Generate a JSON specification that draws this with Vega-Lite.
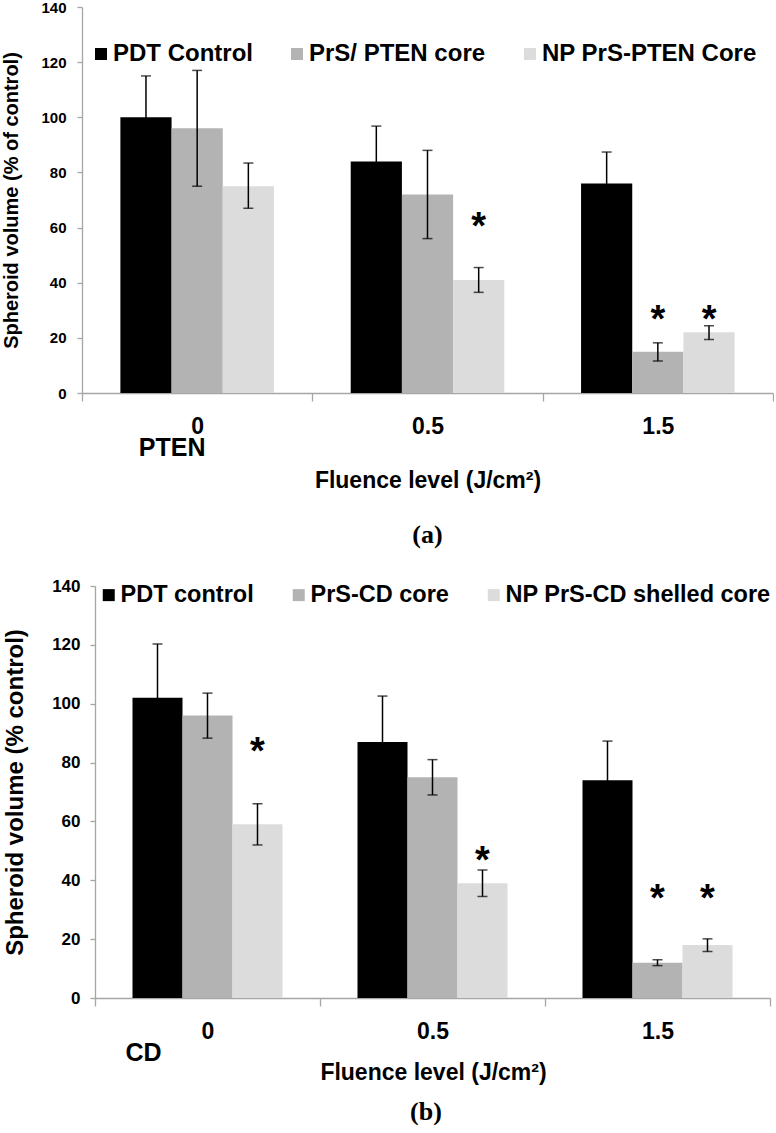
{
  "$schema": "https://vega.github.io/schema/vega-lite/v6.json",
  "padding": {"left": 1, "top": 0, "right": 0, "bottom": 0},
  "background": "white",
  "config": {
    "font": "Liberation Sans",
    "view": {"stroke": null},
    "axis": {"domainColor": "#a6a6a6", "tickColor": "#a6a6a6", "labelColor": "black", "titleColor": "black", "labelFontWeight": "bold", "titleFontWeight": "bold", "grid": false, "domainWidth": 1.3, "tickWidth": 1.3}
  },
  "datasets": {
    "a": [
      {"fluence": "0", "group": "PDT Control", "value": 100, "lo": 85, "hi": 115, "star": null},
      {"fluence": "0", "group": "PrS/ PTEN core", "value": 96, "lo": 75, "hi": 117, "star": null},
      {"fluence": "0", "group": "NP PrS-PTEN Core", "value": 75, "lo": 67, "hi": 83.4, "star": null},
      {"fluence": "0.5", "group": "PDT Control", "value": 84, "lo": 71.2, "hi": 96.8, "star": null},
      {"fluence": "0.5", "group": "PrS/ PTEN core", "value": 72, "lo": 56, "hi": 88, "star": null},
      {"fluence": "0.5", "group": "NP PrS-PTEN Core", "value": 41, "lo": 36.5, "hi": 45.5, "star": 64},
      {"fluence": "1.5", "group": "PDT Control", "value": 76, "lo": 64.6, "hi": 87.4, "star": null},
      {"fluence": "1.5", "group": "PrS/ PTEN core", "value": 15, "lo": 11.6, "hi": 18.2, "star": 30},
      {"fluence": "1.5", "group": "NP PrS-PTEN Core", "value": 22, "lo": 19.4, "hi": 24.4, "star": 30}
    ],
    "b": [
      {"fluence": "0", "group": "PDT control", "value": 102, "lo": 83.7, "hi": 120.3, "star": null},
      {"fluence": "0", "group": "PrS-CD core", "value": 96, "lo": 88.3, "hi": 103.6, "star": null},
      {"fluence": "0", "group": "NP PrS-CD shelled core", "value": 59, "lo": 52, "hi": 66, "star": 87},
      {"fluence": "0.5", "group": "PDT control", "value": 87, "lo": 71.4, "hi": 102.6, "star": null},
      {"fluence": "0.5", "group": "PrS-CD core", "value": 75, "lo": 69, "hi": 81, "star": null},
      {"fluence": "0.5", "group": "NP PrS-CD shelled core", "value": 39, "lo": 34.5, "hi": 43.5, "star": 50},
      {"fluence": "1.5", "group": "PDT control", "value": 74, "lo": 60.7, "hi": 87.3, "star": null},
      {"fluence": "1.5", "group": "PrS-CD core", "value": 12, "lo": 11, "hi": 13, "star": 37},
      {"fluence": "1.5", "group": "NP PrS-CD shelled core", "value": 18, "lo": 15.8, "hi": 20.1, "star": 37}
    ]
  },
  "resolve": {
    "scale": {"color": "independent", "xOffset": "independent", "x": "independent", "y": "independent"},
    "legend": {"color": "independent"},
    "axis": {"x": "independent", "y": "independent"}
  },
  "concat": [
    {
      "width": 691,
      "height": 386,
      "data": {"name": "a"},
      "title": {"text": "(a)", "orient": "bottom", "anchor": "middle", "frame": "group", "font": "Liberation Serif", "fontSize": 26, "fontWeight": "bold", "offset": 30, "color": "black"},
      "encoding": {
        "x": {"field": "fluence", "type": "nominal", "sort": ["0", "0.5", "1.5"], "scale": {"paddingInner": 0, "paddingOuter": 0},
          "axis": {"title": "Fluence level (J/cm²)", "labelAngle": 0, "labelFontSize": 23, "titleFontSize": 23, "tickSize": 8, "tickBand": "extent", "labelPadding": 14, "titlePadding": 31}}
      },
      "layer": [
        {
          "mark": {"type": "bar"},
          "encoding": {
            "xOffset": {"field": "group", "type": "nominal", "sort": ["PDT Control", "PrS/ PTEN core", "NP PrS-PTEN Core"], "scale": {"paddingInner": 0, "paddingOuter": 0.75}},
            "y": {"field": "value", "type": "quantitative", "title": "Spheroid volume (% of  control)", "scale": {"domain": [0, 140]},
              "axis": {"values": [0, 20, 40, 60, 80, 100, 120, 140], "labelFontSize": 15, "titleFontSize": 20, "tickSize": 5, "labelPadding": 11, "titlePadding": 19}},
            "color": {"field": "group", "type": "nominal", "sort": ["PDT Control", "PrS/ PTEN core", "NP PrS-PTEN Core"], "scale": {"range": ["#000000", "#b3b3b3", "#dcdcdc"]},
              "legend": {"title": null, "orient": "none", "legendX": 7, "legendY": 35, "direction": "horizontal", "symbolType": "square", "symbolSize": 144, "symbolStrokeWidth": 0, "symbolOpacity": 1, "labelFontSize": 24, "labelFontWeight": "bold", "labelColor": "black", "labelLimit": 400, "columnPadding": 32, "labelOffset": 0}}
          }
        },
        {
          "mark": {"type": "rule", "color": "black", "strokeWidth": 1.5},
          "encoding": {
            "xOffset": {"field": "group", "type": "nominal", "sort": ["PDT Control", "PrS/ PTEN core", "NP PrS-PTEN Core"]},
            "y": {"field": "lo", "type": "quantitative", "title": "Spheroid volume (% of  control)"},
            "y2": {"field": "hi"}
          }
        },
        {
          "mark": {"type": "tick", "color": "black", "thickness": 1.5, "size": 10},
          "encoding": {
            "xOffset": {"field": "group", "type": "nominal", "sort": ["PDT Control", "PrS/ PTEN core", "NP PrS-PTEN Core"]},
            "y": {"field": "lo", "type": "quantitative", "title": "Spheroid volume (% of  control)"}
          }
        },
        {
          "mark": {"type": "tick", "color": "black", "thickness": 1.5, "size": 10},
          "encoding": {
            "xOffset": {"field": "group", "type": "nominal", "sort": ["PDT Control", "PrS/ PTEN core", "NP PrS-PTEN Core"]},
            "y": {"field": "hi", "type": "quantitative", "title": "Spheroid volume (% of  control)"}
          }
        },
        {
          "transform": [{"filter": "datum.star != null"}],
          "mark": {"type": "text", "text": "*", "fontSize": 38, "fontWeight": "bold", "baseline": "alphabetic", "dy": 22, "color": "black"},
          "encoding": {
            "xOffset": {"field": "group", "type": "nominal", "sort": ["PDT Control", "PrS/ PTEN core", "NP PrS-PTEN Core"]},
            "y": {"field": "star", "type": "quantitative", "title": "Spheroid volume (% of  control)"}
          }
        },
        {
          "data": {"values": [{"fluence": "0", "note": "PTEN"}]},
          "mark": {"type": "text", "fontSize": 25, "fontWeight": "bold", "baseline": "middle", "dx": -25, "dy": 55, "color": "black"},
          "encoding": {
            "text": {"field": "note"},
            "y": {"datum": 0, "type": "quantitative"}
          }
        }
      ]
    },
    {
      "width": 688,
      "height": 412,
      "data": {"name": "b"},
      "title": {"text": "(b)", "orient": "bottom", "anchor": "middle", "frame": "group", "font": "Liberation Serif", "fontSize": 26, "fontWeight": "bold", "offset": 15, "color": "black"},
      "encoding": {
        "x": {"field": "fluence", "type": "nominal", "sort": ["0", "0.5", "1.5"], "scale": {"paddingInner": 0, "paddingOuter": 0, "range": [13, 688]},
          "axis": {"title": "Fluence level (J/cm²)", "titleX": 351, "labelAngle": 0, "labelFontSize": 23, "titleFontSize": 23, "tickSize": 8, "tickBand": "extent", "labelPadding": 14, "titlePadding": 18}}
      },
      "layer": [
        {
          "mark": {"type": "bar"},
          "encoding": {
            "xOffset": {"field": "group", "type": "nominal", "sort": ["PDT control", "PrS-CD core", "NP PrS-CD shelled core"], "scale": {"paddingInner": 0, "paddingOuter": 0.75}},
            "y": {"field": "value", "type": "quantitative", "title": "Spheroid volume (% control)", "scale": {"domain": [0, 140]},
              "axis": {"values": [0, 20, 40, 60, 80, 100, 120, 140], "offset": -13, "labelFontSize": 17, "titleFontSize": 24, "tickSize": 5, "labelPadding": 10, "titlePadding": 24}},
            "color": {"field": "group", "type": "nominal", "sort": ["PDT control", "PrS-CD core", "NP PrS-CD shelled core"], "scale": {"range": ["#000000", "#b3b3b3", "#dcdcdc"]},
              "legend": {"title": null, "orient": "none", "legendX": 15, "legendY": -3, "direction": "horizontal", "symbolType": "square", "symbolSize": 144, "symbolStrokeWidth": 0, "symbolOpacity": 1, "labelFontSize": 23.5, "labelFontWeight": "bold", "labelColor": "black", "labelLimit": 400, "columnPadding": 33, "labelOffset": 0}}
          }
        },
        {
          "mark": {"type": "rule", "color": "black", "strokeWidth": 1.5},
          "encoding": {
            "xOffset": {"field": "group", "type": "nominal", "sort": ["PDT control", "PrS-CD core", "NP PrS-CD shelled core"]},
            "y": {"field": "lo", "type": "quantitative", "title": "Spheroid volume (% control)"},
            "y2": {"field": "hi"}
          }
        },
        {
          "mark": {"type": "tick", "color": "black", "thickness": 1.5, "size": 10},
          "encoding": {
            "xOffset": {"field": "group", "type": "nominal", "sort": ["PDT control", "PrS-CD core", "NP PrS-CD shelled core"]},
            "y": {"field": "lo", "type": "quantitative", "title": "Spheroid volume (% control)"}
          }
        },
        {
          "mark": {"type": "tick", "color": "black", "thickness": 1.5, "size": 10},
          "encoding": {
            "xOffset": {"field": "group", "type": "nominal", "sort": ["PDT control", "PrS-CD core", "NP PrS-CD shelled core"]},
            "y": {"field": "hi", "type": "quantitative", "title": "Spheroid volume (% control)"}
          }
        },
        {
          "transform": [{"filter": "datum.star != null"}],
          "mark": {"type": "text", "text": "*", "fontSize": 38, "fontWeight": "bold", "baseline": "alphabetic", "dy": 22, "color": "black"},
          "encoding": {
            "xOffset": {"field": "group", "type": "nominal", "sort": ["PDT control", "PrS-CD core", "NP PrS-CD shelled core"]},
            "y": {"field": "star", "type": "quantitative", "title": "Spheroid volume (% control)"}
          }
        },
        {
          "data": {"values": [{"fluence": "0", "note": "CD"}]},
          "mark": {"type": "text", "fontSize": 25, "fontWeight": "bold", "baseline": "middle", "dx": -64, "dy": 55, "color": "black"},
          "encoding": {
            "text": {"field": "note"},
            "y": {"datum": 0, "type": "quantitative"}
          }
        }
      ]
    }
  ],
  "columns": 1,
  "align": "none",
  "spacing": 29
}
